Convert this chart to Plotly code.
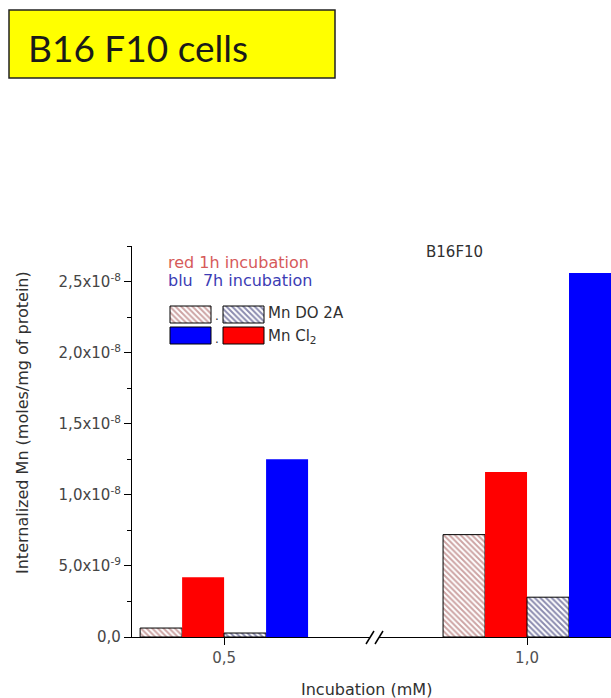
import plotly.graph_objects as go

# ---------------- data ----------------
concentrations = [0.5, 1.0]
tick_labels_x = ["0,5", "1,0"]
mndo2a_1h = [6.3e-10, 7.2e-9]
mncl2_1h = [4.2e-9, 1.16e-8]
mndo2a_7h = [2.8e-10, 2.8e-9]
mncl2_7h = [1.25e-8, 2.56e-8]
y_tickvals = [0, 5e-9, 1e-8, 1.5e-8, 2e-8, 2.5e-8]
y_ticktext = ["0,0", "5,0x10<sup>-9</sup>", "1,0x10<sup>-8</sup>", "1,5x10<sup>-8</sup>",
              "2,0x10<sup>-8</sup>", "2,5x10<sup>-8</sup>"]

# ---------------- layout geometry (pixels) ----------------
W, H = 611, 698
PL, PR, PT, PB = 132, 611, 246, 637


def px(x):
    return (x - PL) / (PR - PL)


def py(y):
    return (PB - y) / (PB - PT)


BW = 0.0693  # bar width in x units
RED_HATCH = dict(shape="\\", fgcolor="#9c4a4a", bgcolor="white", size=4, solidity=0.5)
BLUE_HATCH = dict(shape="\\", fgcolor="#181860", bgcolor="white", size=4, solidity=0.5)
FONT = "DejaVu Sans"

fig = go.Figure()

series = [
    (mndo2a_1h, "Mn DO2A 1h", dict(color="white", pattern=RED_HATCH, line=dict(color="black", width=1)), -2),
    (mncl2_1h, "MnCl2 1h", dict(color="#ff0000", line=dict(width=0)), -1),
    (mndo2a_7h, "Mn DO2A 7h", dict(color="white", pattern=BLUE_HATCH, line=dict(color="black", width=1)), 0),
    (mncl2_7h, "MnCl2 7h", dict(color="#0000ff", line=dict(width=0)), 1),
]
for vals, name, marker, k in series:
    fig.add_trace(go.Bar(x=concentrations, y=vals, name=name, marker=marker,
                         width=BW, offset=k * BW, showlegend=False,
                         xaxis="x", yaxis="y"))

# ---------------- custom legend swatches (pixel axes) ----------------
sw = [
    (170, 306, dict(color="white", pattern=RED_HATCH, line=dict(color="black", width=1))),
    (223, 306, dict(color="white", pattern=BLUE_HATCH, line=dict(color="black", width=1))),
    (170, 327, dict(color="#0000ff", line=dict(color="black", width=1))),
    (223, 327, dict(color="#ff0000", line=dict(color="black", width=1))),
]
for x0, y0, mk in sw:
    fig.add_trace(go.Bar(x=[x0], y=[17], base=[y0], width=[41], offset=0,
                         marker=mk, showlegend=False, xaxis="x2", yaxis="y2",
                         hoverinfo="skip"))

fig.update_layout(
    width=W, height=H, autosize=False,
    margin=dict(l=PL, r=W - PR, t=PT, b=H - PB, pad=0),
    paper_bgcolor="white", plot_bgcolor="white",
    barmode="overlay",
    font=dict(family=FONT, color="#404040"),
    xaxis=dict(range=[0.348, 1.1386], tickvals=concentrations, ticktext=tick_labels_x,
               ticks="outside", ticklen=7, tickwidth=1.2, tickcolor="black",
               showline=True, linecolor="black", linewidth=1.2, showgrid=False,
               zeroline=False, tickfont=dict(size=15, color="#505050")),
    yaxis=dict(range=[0, 2.75e-8], tickvals=y_tickvals, ticktext=y_ticktext,
               ticks="outside", ticklen=7, tickwidth=1.2, tickcolor="black",
               showline=True, linecolor="black", linewidth=1.2, showgrid=False,
               zeroline=False, tickfont=dict(size=15, color="#454545"),
               minor=dict(dtick=2.5e-9, tick0=0, ticks="outside", ticklen=4,
                          tickcolor="black", tickwidth=1.2, showgrid=False)),
    xaxis2=dict(range=[PL, PR], overlaying="x", anchor="y2", visible=False),
    yaxis2=dict(range=[PB, PT], overlaying="y", anchor="x2", visible=False),
)

ann = []


def A(text, x, y, size, color="#404040", xanchor="left", yanchor="middle", angle=0, family=FONT):
    ann.append(dict(text=text, x=px(x), y=py(y), xref="paper", yref="paper",
                    xanchor=xanchor, yanchor=yanchor, showarrow=False, textangle=angle,
                    font=dict(size=size, color=color, family=family)))


A("B16 F10 cells", 26, 47, 37, color="#1a1a1a", family="Lato")
A("red 1h incubation", 166, 262, 16, color="#d65a5a")
A("blu&nbsp; 7h incubation", 166, 280, 16, color="#3c3cb4")
A("Mn DO 2A", 266, 313, 15, color="#303030")
A("Mn Cl<sub>2</sub>", 266, 336, 15, color="#303030")
A(".", 217, 316, 12, color="#303030", xanchor="center")
A(".", 217, 339, 12, color="#303030", xanchor="center")
A("B16F10", 424, 252, 15, color="#303030")
A("Internalized Mn (moles/mg of protein)", 22, 423, 16, color="#303030",
  xanchor="center", angle=-90)
A("Incubation (mM)", 366, 689, 16, color="#303030", xanchor="center")
fig.update_layout(annotations=ann)

shapes = [
    # yellow title box
    dict(type="rect", xref="paper", yref="paper", x0=px(9), x1=px(335), y0=py(78), y1=py(10),
         fillcolor="#ffff00", line=dict(color="#222222", width=1.5), layer="below"),
    # axis break: white gap and two slashes
    dict(type="rect", xref="paper", yref="paper", x0=px(370), x1=px(379), y0=py(640), y1=py(634),
         fillcolor="white", line=dict(width=0)),
    dict(type="line", xref="paper", yref="paper", x0=px(366), y0=py(644), x1=px(374), y1=py(631),
         line=dict(color="black", width=1.5)),
    dict(type="line", xref="paper", yref="paper", x0=px(375), y0=py(644), x1=px(383), y1=py(631),
         line=dict(color="black", width=1.5)),
]
fig.update_layout(shapes=shapes)

fig.write_html("out.html")
